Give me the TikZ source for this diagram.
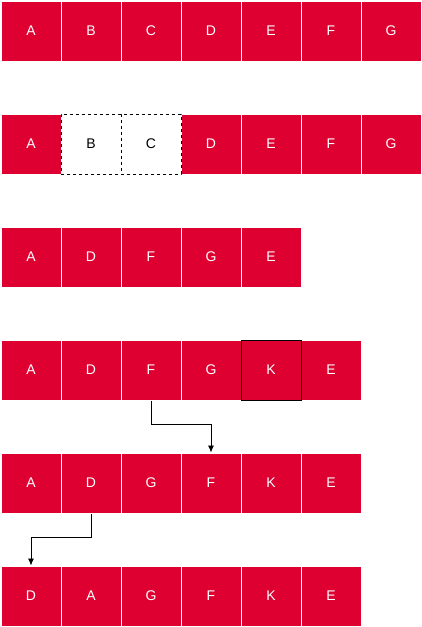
\documentclass[tikz,border=0pt]{standalone}
\usepackage{fontspec}
\setmainfont{Liberation Sans}
\usetikzlibrary{arrows.meta}
\definecolor{cellred}{RGB}{221,0,49}
\begin{document}
\begin{tikzpicture}[x=1pt,y=-1pt,
 cell/.style={rectangle, minimum width=60pt, minimum height=60pt, inner sep=0pt, fill=cellred, draw=white, line width=1pt, text=white, font=\fontsize{14}{16}\selectfont},
 ghost/.style={cell, fill=white, draw=black, dashed, line width=0.7pt, text=black},
 marked/.style={cell, draw=black, line width=1pt},
 link/.style={draw=black, line width=0.8pt, -{Latex[length=7pt,width=6pt]}}]
\useasboundingbox (0,0) rectangle (422,627);
% row 1
\node[cell] (r1c1) at (31,31) {A};
\node[cell] (r1c2) at (91,31) {B};
\node[cell] (r1c3) at (151,31) {C};
\node[cell] (r1c4) at (211,31) {D};
\node[cell] (r1c5) at (271,31) {E};
\node[cell] (r1c6) at (331,31) {F};
\node[cell] (r1c7) at (391,31) {G};
% row 2
\node[cell] (r2c1) at (31,144) {A};
\node[cell] (r2c4) at (211,144) {D};
\node[cell] (r2c5) at (271,144) {E};
\node[cell] (r2c6) at (331,144) {F};
\node[cell] (r2c7) at (391,144) {G};
\node[ghost] (r2c2) at (91,144) {B};
\node[ghost] (r2c3) at (151,144) {C};
% row 3
\node[cell] (r3c1) at (31,257) {A};
\node[cell] (r3c2) at (91,257) {D};
\node[cell] (r3c3) at (151,257) {F};
\node[cell] (r3c4) at (211,257) {G};
\node[cell] (r3c5) at (271,257) {E};
% row 4
\node[cell] (r4c1) at (31,370) {A};
\node[cell] (r4c2) at (91,370) {D};
\node[cell] (r4c3) at (151,370) {F};
\node[cell] (r4c4) at (211,370) {G};
\node[cell] (r4c6) at (331,370) {E};
\node[marked] (r4c5) at (271,370) {K};
% row 5
\node[cell] (r5c1) at (31,483) {A};
\node[cell] (r5c2) at (91,483) {D};
\node[cell] (r5c3) at (151,483) {G};
\node[cell] (r5c4) at (211,483) {F};
\node[cell] (r5c5) at (271,483) {K};
\node[cell] (r5c6) at (331,483) {E};
% row 6
\node[cell] (r6c1) at (31,596) {D};
\node[cell] (r6c2) at (91,596) {A};
\node[cell] (r6c3) at (151,596) {G};
\node[cell] (r6c4) at (211,596) {F};
\node[cell] (r6c5) at (271,596) {K};
\node[cell] (r6c6) at (331,596) {E};
% connectors
\draw[link] (r4c3.south) -- ++(0,24) -| (r5c4.north);
\draw[link] (r5c2.south) -- ++(0,24) -| (r6c1.north);
\end{tikzpicture}
\end{document}
